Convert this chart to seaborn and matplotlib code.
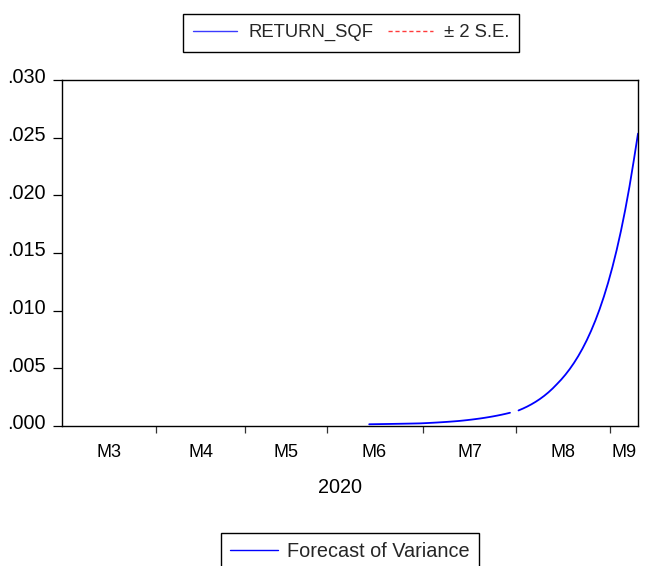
import numpy as np
import pandas as pd
import seaborn as sns
import matplotlib
matplotlib.use("Agg")
import matplotlib.pyplot as plt
from matplotlib.lines import Line2D
from matplotlib.transforms import ScaledTranslation

# Daily observations, indexed 0..135 across Mar-Sep 2020
n_obs = 136
forecast_start = 72
variance = [
    0.000151, 0.000156, 0.000162, 0.000168, 0.000173, 0.000179, 0.000186,
    0.000192, 0.000199, 0.000206, 0.000213, 0.000221, 0.000229,
    0.000246, 0.000264, 0.000284, 0.000305, 0.000328, 0.000352, 0.000378,
    0.000406, 0.000436,
    0.000473, 0.000513, 0.000556, 0.000603, 0.000653, 0.000708, 0.000768,
    0.000832, 0.000902, 0.000977, 0.001059, 0.001148,
    np.nan,
    0.001349, 0.001506, 0.001681, 0.001877, 0.002095, 0.002339, 0.002611,
    0.002915, 0.003254, 0.003632,
    0.004022, 0.004457, 0.004938, 0.005471, 0.006062, 0.006717, 0.007442,
    0.008246, 0.009137, 0.010124, 0.011217, 0.012429, 0.013771, 0.015258,
    0.016906, 0.018732, 0.020755, 0.022997, 0.025350,
]
month_starts = [22, 43, 62, 84.5, 106.5, 128.5]
month_labels = ["M3", "M4", "M5", "M6", "M7", "M8", "M9"]
year_label = "2020"
y_ticks = [0.000, 0.005, 0.010, 0.015, 0.020, 0.025, 0.030]

obs = np.arange(forecast_start, forecast_start + len(variance))
df = pd.DataFrame({"obs": obs, "variance": variance})
df["segment"] = df["variance"].isna().cumsum()
df = df.dropna()

sns.set_theme(style="white")
plt.rcParams["font.family"] = ["Liberation Sans", "DejaVu Sans"]

fig = plt.figure(figsize=(6.47, 5.66), dpi=100)
ax = fig.add_axes([62 / 647, 1 - 426 / 566, 576 / 647, 346 / 566])

sns.lineplot(data=df, x="obs", y="variance", units="segment", estimator=None,
             color="#0000ff", linewidth=1.3, ax=ax, legend=False)

ax.set_xlim(0, n_obs - 1)
ax.set_ylim(0, 0.030)
ax.set_xlabel("")
ax.set_ylabel("")

for s in ax.spines.values():
    s.set_color("black")
    s.set_linewidth(1.0)

# y axis
ax.set_yticks(y_ticks)
ax.set_yticklabels([f"{v:.3f}"[1:] for v in y_ticks])
ax.tick_params(axis="y", which="major", direction="out", length=6.5, width=0.9,
               color="black", pad=5, labelsize=14.3, left=True,
               labelcolor="black")
offset = ScaledTranslation(0, 3 / 72, fig.dpi_scale_trans)
for lab in ax.get_yticklabels():
    lab.set_transform(lab.get_transform() + offset)

# x axis: tick marks at month starts, labels centred in each month
edges = [0] + month_starts + [n_obs - 1]
centres = [(a + b) / 2 for a, b in zip(edges[:-1], edges[1:])]
ax.set_xticks(month_starts)
ax.set_xticklabels([])
ax.set_xticks(centres, minor=True)
ax.set_xticklabels(month_labels, minor=True)
ax.tick_params(axis="x", which="major", direction="out", length=5, width=0.9,
               color="#333333", bottom=True)
ax.tick_params(axis="x", which="minor", length=0, pad=13, labelsize=13,
               bottom=True, labelcolor="black")

fig.text(340 / 647, 1 - 493 / 566, year_label, ha="center", va="baseline",
         fontsize=14.3, color="black")

# legends
top_handles = [
    Line2D([], [], color="#3b3bff", linewidth=1.0),
    Line2D([], [], color="#ff3b3b", linewidth=1.0, linestyle=(0, (3, 2))),
]
leg1 = fig.legend(top_handles, ["RETURN_SQF", "\u00b1 2 S.E."], ncol=2,
                  loc="upper center", bbox_to_anchor=(351 / 647, 1 - 14 / 566),
                  borderaxespad=0, frameon=True, fancybox=False, framealpha=1,
                  edgecolor="black", fontsize=13.3, handlelength=2.4,
                  columnspacing=0.8, borderpad=0.55, handletextpad=0.6)
leg1.get_frame().set_linewidth(1.0)

bottom_handles = [Line2D([], [], color="#0000ff", linewidth=1.0)]
leg2 = fig.legend(bottom_handles, ["Forecast of Variance"], loc="upper center",
                  bbox_to_anchor=(350 / 647, 1 - 533 / 566), borderaxespad=0,
                  frameon=True, fancybox=False, framealpha=1,
                  edgecolor="black", fontsize=14.3, handlelength=2.4,
                  borderpad=0.45, handletextpad=0.5)
leg2.get_frame().set_linewidth(1.0)

fig.savefig("out.png", dpi=100)
